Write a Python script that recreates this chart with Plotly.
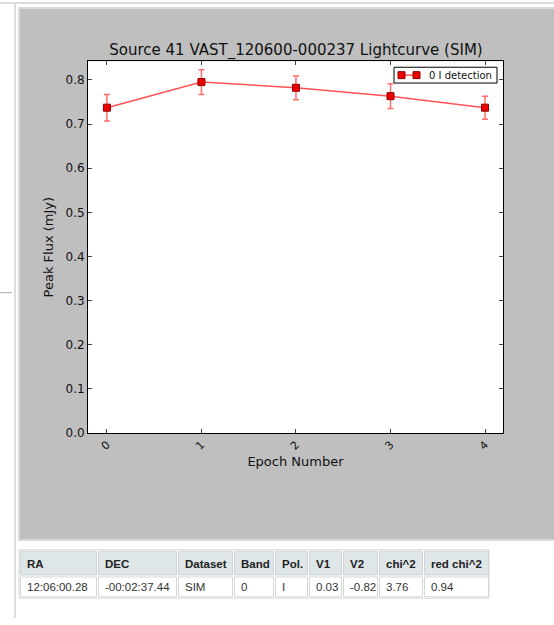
import plotly.graph_objects as go

# ---- data ----
epochs = [0, 1, 2, 3, 4]
peak_flux = [0.737, 0.795, 0.782, 0.763, 0.737]
flux_err = [0.030, 0.028, 0.027, 0.028, 0.026]
series_name = "0 I detection"
title_text = "Source 41 VAST_120600-000237 Lightcurve (SIM)"
y_ticks = [0.0, 0.1, 0.2, 0.3, 0.4, 0.5, 0.6, 0.7, 0.8]
x_ticks = [0, 1, 2, 3, 4]

table_header = ["RA", "DEC", "Dataset", "Band", "Pol.", "V1", "V2", "chi^2", "red chi^2"]
table_row = ["12:06:00.28", "-00:02:37.44", "SIM", "0", "I", "0.03", "-0.82", "3.76", "0.94"]

# ---- layout (pixels) ----
W, H = 554, 625
table_col_widths = [78, 80, 56, 41, 34, 34, 36, 45, 66]
table_left = 19
table_top, header_bottom, table_bottom = 556, 582, 605
legend_box = (394, 497, 68, 84)  # x0, x1, y0, y1

LINE_COLOR = "rgba(255,40,40,0.8)"
MARKER_COLOR = "#ee0000"
MARKER_EDGE = "#8b0000"


def px(x):
    return x / W


def py(y):
    return 1 - y / H


fig = go.Figure()

fig.add_trace(go.Scatter(
    x=epochs, y=peak_flux,
    mode="lines+markers",
    name=series_name,
    showlegend=False,
    line=dict(color=LINE_COLOR, width=1.5),
    marker=dict(symbol="square", size=7, color=MARKER_COLOR,
                line=dict(color=MARKER_EDGE, width=1)),
    error_y=dict(type="data", array=flux_err, visible=True,
                 color="rgba(255,60,60,0.75)", thickness=1.5, width=3),
))

shapes = [
    # page chrome
    dict(type="line", xref="paper", yref="paper", x0=px(0), x1=px(554), y0=py(3), y1=py(3),
         line=dict(color="#dcdcdc", width=2), layer="below"),
    dict(type="line", xref="paper", yref="paper", x0=px(15), x1=px(15), y0=py(3), y1=py(625),
         line=dict(color="#dcdcdc", width=2), layer="below"),
    dict(type="line", xref="paper", yref="paper", x0=px(0), x1=px(12), y0=py(296), y1=py(296),
         line=dict(color="#aaaaaa", width=1), layer="below"),
    dict(type="rect", xref="paper", yref="paper", x0=px(19), x1=px(556), y0=py(546), y1=py(8),
         fillcolor="#bfbfbf", line=dict(color="#d9d9d9", width=2), layer="below"),
    dict(type="rect", xref="paper", yref="paper", x0=px(88), x1=px(503), y0=py(438), y1=py(62),
         fillcolor="white", line=dict(width=0), layer="below"),
    # table outer border
    dict(type="rect", xref="paper", yref="paper",
         x0=px(table_left), x1=px(table_left + sum(table_col_widths)),
         y0=py(table_bottom), y1=py(table_top),
         fillcolor="white", line=dict(color="#d6d6d6", width=1), layer="below"),
]

# custom compact legend (matplotlib style)
lx0, lx1, ly0, ly1 = legend_box
lyc = (ly0 + ly1) / 2
shapes += [
    dict(type="rect", xref="paper", yref="paper", x0=px(lx0), x1=px(lx1), y0=py(ly1), y1=py(ly0),
         fillcolor="white", line=dict(color="black", width=1), layer="above"),
    dict(type="line", xref="paper", yref="paper", x0=px(lx0 + 7), x1=px(lx0 + 23), y0=py(lyc), y1=py(lyc),
         line=dict(color=LINE_COLOR, width=1.5), layer="above"),
]
for cx in (lx0 + 7.5, lx0 + 22.5):
    shapes.append(dict(type="rect", xref="paper", yref="paper",
                       x0=px(cx - 3.5), x1=px(cx + 3.5), y0=py(lyc + 3.5), y1=py(lyc - 3.5),
                       fillcolor=MARKER_COLOR, line=dict(color=MARKER_EDGE, width=1), layer="above"))

annotations = [
    dict(xref="paper", yref="paper", x=px(lx0 + 33), y=py(lyc), xanchor="left", yanchor="middle",
         showarrow=False, text=series_name,
         font=dict(family="DejaVu Sans", size=10, color="#111")),
]

x = table_left
for w, head, val in zip(table_col_widths, table_header, table_row):
    shapes.append(dict(type="rect", xref="paper", yref="paper",
                       x0=px(x + 1.5), x1=px(x + w - 0.5),
                       y0=py(header_bottom - 0.5), y1=py(table_top + 1.5),
                       fillcolor="#dfe6e8", line=dict(color="#d0d4d6", width=1), layer="below"))
    shapes.append(dict(type="rect", xref="paper", yref="paper",
                       x0=px(x + 1.5), x1=px(x + w - 0.5),
                       y0=py(table_bottom - 1.5), y1=py(header_bottom + 1.5),
                       fillcolor="white", line=dict(color="#d6d6d6", width=1), layer="below"))
    annotations.append(dict(xref="paper", yref="paper", x=px(x + 6), y=py((table_top + header_bottom) / 2 + 1),
                            xanchor="left", yanchor="middle", showarrow=False,
                            text="<b>%s</b>" % head,
                            font=dict(family="Liberation Sans, Arial", size=11.5, color="#222")))
    annotations.append(dict(xref="paper", yref="paper", x=px(x + 6), y=py((header_bottom + table_bottom) / 2 + 0.5),
                            xanchor="left", yanchor="middle", showarrow=False,
                            text=val,
                            font=dict(family="Liberation Sans, Arial", size=11.5, color="#333")))
    x += w

fig.update_layout(
    width=W, height=H,
    margin=dict(l=0, r=0, t=0, b=0),
    paper_bgcolor="white",
    plot_bgcolor="white",
    shapes=shapes,
    annotations=annotations,
    font=dict(family="DejaVu Sans", color="#222"),
    title=dict(text=title_text, x=px(296), xanchor="center", y=py(50), yanchor="middle",
               font=dict(family="DejaVu Sans", size=15, color="#111")),
    showlegend=False,
    xaxis=dict(domain=[px(88), px(503)], range=[-0.2, 4.19],
               tickvals=x_ticks, ticktext=[str(t) for t in x_ticks],
               tickangle=-45, ticks="inside", ticklen=4, tickcolor="#444",
               showline=True, linecolor="black", linewidth=1, mirror="ticks",
               showgrid=False, zeroline=False,
               tickfont=dict(family="DejaVu Sans", size=11, color="#111"),
               title=dict(text="Epoch Number", standoff=5,
                          font=dict(family="DejaVu Sans", size=13, color="#111"))),
    yaxis=dict(domain=[py(438), py(62)], range=[0, 0.842],
               tickvals=y_ticks, ticktext=["%.1f" % t for t in y_ticks],
               ticks="inside", ticklen=4, tickcolor="#444",
               showline=True, linecolor="black", linewidth=1, mirror="ticks",
               showgrid=False, zeroline=False,
               tickfont=dict(family="DejaVu Sans", size=12, color="#111"),
               title=dict(text="Peak Flux (mJy)", standoff=8,
                          font=dict(family="DejaVu Sans", size=13, color="#111"))),
)

fig.write_html("out.html")
